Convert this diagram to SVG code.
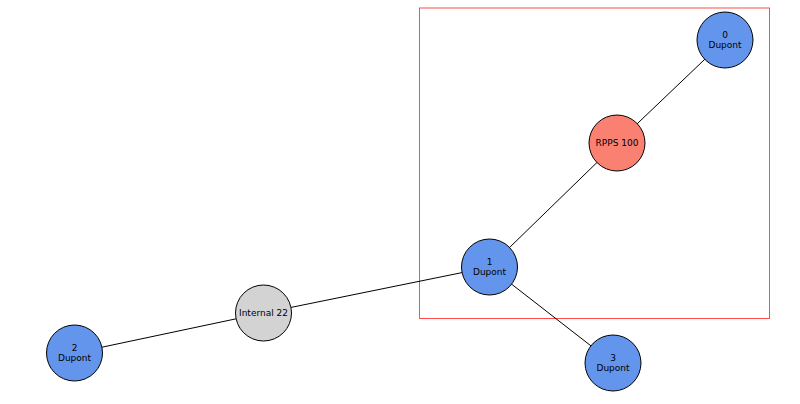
<svg xmlns="http://www.w3.org/2000/svg" width="800" height="404" viewBox="0 0 800 404">
<style>
.n{stroke:#000;stroke-width:1}
.b{fill:#6495ED}
.r{fill:#FA8072}
.g{fill:#D3D3D3}
text{font-family:"DejaVu Sans",sans-serif;font-size:9px;fill:#000;text-anchor:middle}
.e{stroke:#000;stroke-width:1;fill:none}
</style>
<rect x="419.5" y="8" width="350" height="310.5" fill="none" stroke="#FF0000" stroke-opacity="0.7" stroke-width="1"/>
<g id="edges">
<line class="e" x1="725" y1="40" x2="617" y2="143"/>
<line class="e" x1="617" y1="143" x2="489.5" y2="267"/>
<line class="e" x1="489.5" y1="267" x2="263.5" y2="313"/>
<line class="e" x1="489.5" y1="267" x2="613" y2="363"/>
<line class="e" x1="263.5" y1="313" x2="74.5" y2="353"/>
</g>
<g id="n0"><circle class="n b" cx="725" cy="40" r="28"/><text x="725" y="37.5">0</text><text x="725" y="47.5">Dupont</text></g>
<g id="rpps"><circle class="n r" cx="617" cy="143" r="28"/><text x="617" y="146">RPPS 100</text></g>
<g id="n1"><circle class="n b" cx="489.5" cy="267" r="28"/><text x="489.5" y="264.5">1</text><text x="489.5" y="274.5">Dupont</text></g>
<g id="int"><circle class="n g" cx="263.5" cy="313" r="28"/><text x="263.5" y="316">Internal 22</text></g>
<g id="n2"><circle class="n b" cx="74.5" cy="353" r="28"/><text x="74.5" y="350.5">2</text><text x="74.5" y="360.5">Dupont</text></g>
<g id="n3"><circle class="n b" cx="613" cy="363" r="28"/><text x="613" y="360.5">3</text><text x="613" y="370.5">Dupont</text></g>
</svg>
